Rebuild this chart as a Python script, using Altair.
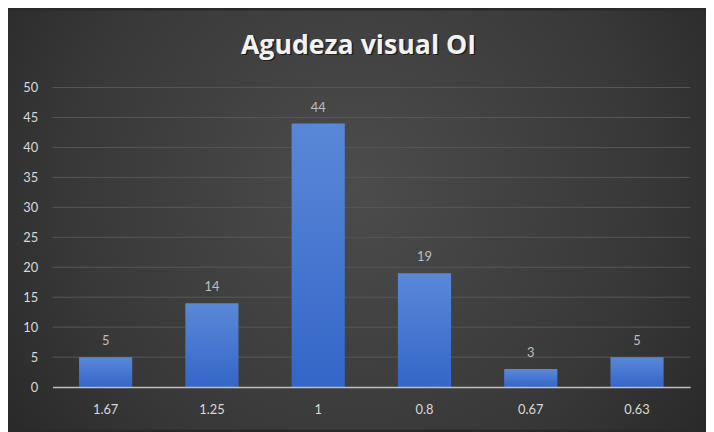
import altair as alt
import pandas as pd

categories = ["1.67", "1.25", "1", "0.8", "0.67", "0.63"]
values = [5, 14, 44, 19, 3, 5]
y_ticks = [0, 5, 10, 15, 20, 25, 30, 35, 40, 45, 50]
title_text = "Agudeza visual OI"

df = pd.DataFrame({"cat": categories, "val": values})
grid_df = pd.DataFrame({"val": y_ticks[1:]})
title_df = pd.DataFrame({"t": [title_text]})

FONT = "Lato"
TFONT = "Open Sans"
W, H = 645, 303
PAD = {"left": 45, "top": 78, "right": 16, "bottom": 43}

y_enc = alt.Y("val:Q", scale=alt.Scale(domain=[0, 50], nice=False),
              axis=alt.Axis(title=None, values=y_ticks, labelColor="#d9d9d9",
                            labelFont=FONT, labelFontSize=13, labelPadding=15,
                            ticks=False, domain=False, grid=False, zindex=1))
x_enc = alt.X("cat:N", sort=categories,
              scale=alt.Scale(paddingInner=0.5, paddingOuter=0.25),
              axis=alt.Axis(title=None, labelAngle=0, labelColor="#d9d9d9",
                            labelFont=FONT, labelFontSize=13, labelPadding=17,
                            ticks=False, domain=True, domainColor="#bfbfbf",
                            domainWidth=1.5, grid=False, zindex=1))

bg = alt.Chart(pd.DataFrame({"a": [0]})).mark_rect(
    color=alt.Gradient(
        gradient="radial",
        stops=[alt.GradientStop(color="#4c4c4c", offset=0),
               alt.GradientStop(color="#383838", offset=0.55),
               alt.GradientStop(color="#1f1f1f", offset=1)],
        x1=0.5, y1=0.45, r1=0, x2=0.5, y2=0.45, r2=0.75),
).encode(
    x=alt.value(-PAD["left"]), x2=alt.value(W + PAD["right"]),
    y=alt.value(-PAD["top"]), y2=alt.value(H + PAD["bottom"]),
)

grid = alt.Chart(grid_df).mark_rule(color="#575757", strokeWidth=1).encode(y=y_enc)

base = alt.Chart(df).encode(x=x_enc, y=y_enc)

bars = base.mark_bar(
    color=alt.Gradient(
        gradient="linear",
        stops=[alt.GradientStop(color="#5a88d8", offset=0),
               alt.GradientStop(color="#3466c8", offset=1)],
        x1=0, y1=0, x2=0, y2=1),
)

labels = base.mark_text(baseline="bottom", dy=-9, color="#bfbfbf",
                        font=FONT, fontSize=13).encode(text="val:Q")

title_shadow = alt.Chart(title_df).mark_text(
    font=TFONT, fontSize=27, fontWeight="bold", color="#000000", opacity=0.55,
    align="center", baseline="middle", dx=1.5, dy=1.5,
).encode(text="t:N", x=alt.value(W / 2 - 13), y=alt.value(-42))

title = alt.Chart(title_df).mark_text(
    font=TFONT, fontSize=27, fontWeight="bold", color="#f2f2f2",
    align="center", baseline="middle",
).encode(text="t:N", x=alt.value(W / 2 - 13), y=alt.value(-42))

chart = alt.layer(bg, grid, bars, labels, title_shadow, title).properties(
    width=W, height=H,
    autosize=alt.AutoSizeParams(type="none"),
    padding=PAD,
    background="#2a2a2a",
).configure_view(stroke=None)

chart.save("out.html", embed_options={"renderer": "svg", "actions": False})
